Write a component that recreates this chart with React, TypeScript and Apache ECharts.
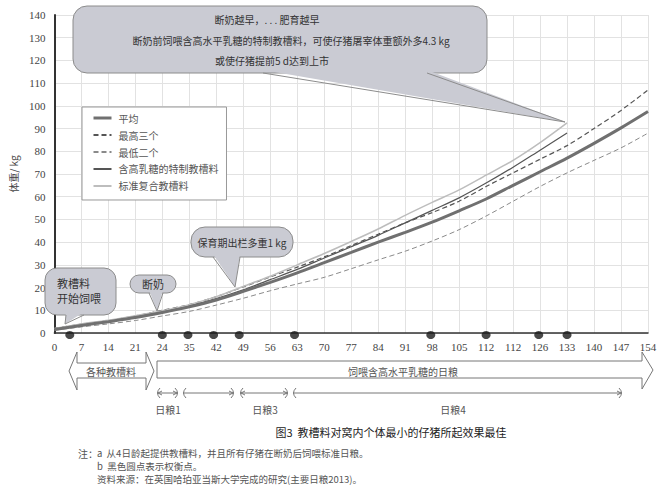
import React, { useEffect, useRef } from "react";
import * as echarts from "echarts";

const xLabels = ["0", "7", "14", "21", "24", "35", "42", "49", "56", "63", "70", "77", "84", "91", "98", "105", "112", "112", "126", "133", "140", "147", "154"];
const seriesNames = ["平均", "最高三个", "最低二个", "含高乳糖的特制教槽料", "标准复合教槽料"];
const avgWeight = [1.5, 3.3, 5, 6.8, 9, 11.5, 14.5, 18.3, 22.3, 26.5, 31, 35.5, 40, 44.3, 48.8, 53.8, 59, 65, 71, 77, 83.5, 90.3, 97.5];
const topThree = [2, 3.9, 5.5, 7.5, 10, 12.5, 16, 20.3, 24.7, 29, 33.5, 38.5, 43.5, 48.5, 53, 58, 64.5, 70.5, 76.5, 82.5, 90, 98, 107];
const bottomTwo = [1.2, 2.7, 4, 5.5, 7.5, 9.5, 12.3, 15.3, 18.6, 21.6, 24.5, 28.3, 32.2, 36, 40.5, 45.5, 51.5, 58, 64.5, 70.5, 76, 81.5, 88];
const specialFeed = [1.8, 3.7, 5.3, 7.2, 9.5, 12, 15.2, 19, 23.5, 28, 33, 38, 43, 48.5, 54, 59.5, 66, 73, 80.5, 88];
const standardFeed = [2, 4, 5.6, 7.6, 9.8, 12.5, 16, 20.5, 25, 30, 35, 40.3, 45.8, 51.8, 57.5, 63, 69.5, 76, 83.8, 92.5];
const weighPoints = [0.57, 4, 4.95, 5.9, 6.85, 8.9, 13.95, 16, 17.95, 19];

const FILL = "#cacbd3";
const EDGE = "#8c8c8c";
const CJK = "'Noto Sans CJK SC', sans-serif";
const Z = 20;

function txt(x: number, y: number, text: string, size = 10, align = "center", color = "#333") {
  return {
    type: "text",
    x,
    y,
    z: Z + 2,
    style: { text, fill: color, stroke: "none", lineWidth: 0, font: `${size}px ${CJK}`, textAlign: align, textVerticalAlign: "middle" },
  };
}

function bubble(x: number, y: number, w: number, h: number, r: number, tail: number[][], texts: any[]) {
  const [bl, tip, br] = tail;
  const bottom = y + h;
  return [
    { type: "rect", z: Z, shape: { x, y, width: w, height: h, r }, style: { fill: FILL, stroke: EDGE, lineWidth: 1 } },
    { type: "polygon", z: Z + 1, shape: { points: [[bl[0], bottom - 3], tip, [br[0], bottom - 3]] }, style: { fill: FILL, stroke: "none" } },
    { type: "polyline", z: Z + 1, shape: { points: [[bl[0], bottom], tip, [br[0], bottom]] }, style: { fill: "none", stroke: EDGE, lineWidth: 1 } },
    ...texts,
  ];
}

function range(a: number, b: number, y: number, leftArrow: boolean, rightArrow: boolean) {
  const st = { stroke: "#777", lineWidth: 1, fill: "none" };
  const els: any[] = [
    { type: "line", z: Z, shape: { x1: a, y1: y, x2: b, y2: y }, style: st },
    { type: "bezierCurve", z: Z, shape: { x1: a + 3, y1: y - 5, cpx1: a - 2, cpy1: y, x2: a + 3, y2: y + 5 }, style: st },
    { type: "bezierCurve", z: Z, shape: { x1: b - 3, y1: y - 5, cpx1: b + 2, cpy1: y, x2: b - 3, y2: y + 5 }, style: st },
  ];
  if (leftArrow) els.push({ type: "polyline", z: Z, shape: { points: [[a + 5, y - 2], [a + 1, y], [a + 5, y + 2]] }, style: st });
  if (rightArrow) els.push({ type: "polyline", z: Z, shape: { points: [[b - 5, y - 2], [b - 1, y], [b - 5, y + 2]] }, style: st });
  return els;
}

export default function App() {
  const ref = useRef<HTMLDivElement>(null);
  useEffect(() => {
    document.body.style.margin = "0";
    const chart = echarts.init(ref.current!, null, { renderer: "svg" });
    const toPairs = (arr: number[]) => arr.map((v, i) => [i, v]);
    const lineBase = { type: "line", smooth: 0.3, symbol: "none", showSymbol: false, z: 3 };
    const option: any = {
      animation: false,
      backgroundColor: "#fff",
      grid: { left: 49, right: 20, top: 15, bottom: 160 },
      legend: {
        data: seriesNames.map((name, i) => (i === 0 ? { name, lineStyle: { width: 3 } } : { name })),
        orient: "vertical",
        left: 82,
        top: 107,
        width: 143,
        padding: [6, 8, 9, 10],
        itemGap: 7,
        itemWidth: 18,
        itemHeight: 12,
        borderColor: "#999",
        borderWidth: 1,
        backgroundColor: "#fff",
        itemStyle: { opacity: 0 },
        textStyle: { fontFamily: CJK, fontSize: 10, color: "#555", padding: [0, 0, 0, 2] },
        selectedMode: false,
      },
      xAxis: {
        type: "value",
        min: 0,
        max: 22,
        interval: 1,
        axisLine: { show: true, onZero: false, lineStyle: { color: "#333", width: 1.5 } },
        axisTick: { show: false },
        axisLabel: {
          formatter: (v: number) => xLabels[Math.round(v)] ?? "",
          fontFamily: "'Liberation Serif', serif",
          fontSize: 11,
          color: "#444",
          margin: 8,
        },
        splitLine: { show: true, lineStyle: { color: "#e2e2e2", width: 1 } },
      },
      yAxis: {
        type: "value",
        min: 0,
        max: 140,
        interval: 10,
        name: "体重/ kg",
        nameLocation: "middle",
        nameRotate: 90,
        nameGap: 36,
        nameTextStyle: { fontFamily: CJK, fontSize: 10, color: "#444" },
        axisLine: { show: true, lineStyle: { color: "#333", width: 2 } },
        axisTick: { show: false },
        axisLabel: { fontFamily: "'Liberation Serif', serif", fontSize: 11, color: "#444", margin: 9 },
        splitLine: { show: true, lineStyle: { color: "#e2e2e2", width: 1 } },
      },
      series: [
        { ...lineBase, name: seriesNames[0], data: toPairs(avgWeight), lineStyle: { color: "#707070", width: 3 }, itemStyle: { color: "#707070" }, z: 4 },
        { ...lineBase, name: seriesNames[1], data: toPairs(topThree), lineStyle: { color: "#555", width: 1.2, type: [5, 3] }, itemStyle: { color: "#555" } },
        { ...lineBase, name: seriesNames[2], data: toPairs(bottomTwo), lineStyle: { color: "#8a8a8a", width: 1, type: [5, 3] }, itemStyle: { color: "#8a8a8a" } },
        { ...lineBase, name: seriesNames[3], data: toPairs(specialFeed), lineStyle: { color: "#555", width: 1.2 }, itemStyle: { color: "#555" } },
        { ...lineBase, name: seriesNames[4], data: toPairs(standardFeed), lineStyle: { color: "#bdbdbd", width: 1.5 }, itemStyle: { color: "#bdbdbd" } },
        {
          type: "scatter",
          name: "权衡点",
          data: weighPoints.map((x) => [x, 0]),
          symbol: "circle",
          symbolSize: [9, 8],
          symbolOffset: [0, 2],
          itemStyle: { color: "#1a1a1a" },
          clip: false,
          z: 5,
        },
      ],
      graphic: [
        ...bubble(73, 6, 414, 67, 14, [[263, 0], [565, 122], [427, 0]], [
          txt(267, 19, "断奶越早，. . . 肥育越早"),
          txt(291, 40, "断奶前饲喂含高水平乳糖的特制教槽料，可使仔猪屠宰体重额外多4.3 kg"),
          txt(272, 60, "或使仔猪提前5 d达到上市"),
        ]),
        ...bubble(45, 268, 71, 47, 12, [[66, 0], [65, 324], [84, 0]], [
          txt(57, 283, "教槽料", 11, "left"),
          txt(57, 298, "开始饲喂", 11, "left"),
        ]),
        ...bubble(130, 275, 46, 18, 9, [[149, 0], [157, 311], [163, 0]], [txt(153, 284, "断奶", 11)]),
        ...bubble(191, 227, 102, 30, 14, [[213, 0], [235, 287], [240, 0]], [txt(242, 242, "保育期出栏多重1 kg", 10)]),
        {
          type: "polygon",
          z: Z,
          shape: { points: [[69, 371], [77, 352], [77, 363], [146, 363], [146, 352], [154, 371], [146, 390], [146, 378], [77, 378], [77, 390]] },
          style: { fill: "#fff", stroke: "#777", lineWidth: 1 },
        },
        txt(111, 371, "各种教槽料", 10, "center", "#555"),
        {
          type: "polygon",
          z: Z,
          shape: { points: [[157, 361], [642, 361], [642, 352], [653, 370], [642, 389], [642, 378], [157, 378]] },
          style: { fill: "#fff", stroke: "#777", lineWidth: 1 },
        },
        txt(348, 371, "饲喂含高水平乳糖的日粮", 10, "left", "#555"),
        ...range(157, 178, 393, true, true),
        ...range(183, 234, 393, false, true),
        ...range(240, 288, 393, true, true),
        ...range(293, 622, 393, false, true),
        txt(168, 409, "日粮1", 10, "center", "#555"),
        txt(265, 409, "日粮3", 10, "center", "#555"),
        txt(453, 409, "日粮4", 10, "center", "#555"),
        txt(391, 432, "图3  教槽料对窝内个体最小的仔猪所起效果最佳", 11, "center", "#222"),
        txt(78, 453, "注：", 10, "left", "#555"),
        txt(97, 453, "a  从4日龄起提供教槽料，并且所有仔猪在断奶后饲喂标准日粮。", 9.5, "left", "#555"),
        txt(97, 466, "b  黑色圆点表示权衡点。", 9.5, "left", "#555"),
        txt(97, 479, "资料来源：在英国哈珀亚当斯大学完成的研究(主要日粮2013)。", 9.5, "left", "#555"),
      ],
    };
    chart.setOption(option);
    return () => chart.dispose();
  }, []);
  return <div ref={ref} style={{ position: "fixed", left: 0, top: 0, width: 668, height: 493 }} />;
}
